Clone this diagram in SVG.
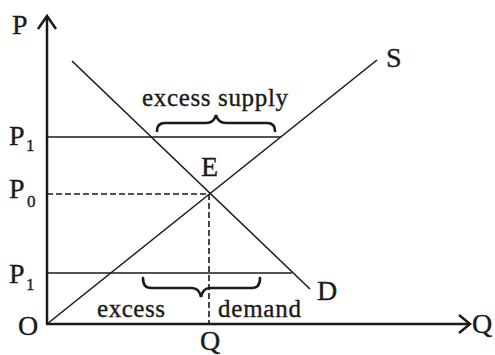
<svg xmlns="http://www.w3.org/2000/svg" width="495" height="355" viewBox="0 0 495 355">
<style>
text{font-family:"Liberation Serif","Times New Roman",serif;fill:#1a1a1a;stroke:#1a1a1a;stroke-width:0.35}
.lbl{font-size:28px}
.sub{font-size:17px}
.word{font-size:25px}
.axis{stroke:#1a1a1a;stroke-width:2.5;fill:none}
.ln{stroke:#1a1a1a;stroke-width:1.6;fill:none}
.dash{stroke:#1a1a1a;stroke-width:1.6;fill:none;stroke-dasharray:6 3}
.brace{stroke:#1a1a1a;stroke-width:2.6;fill:none;stroke-linecap:round}
</style>
<rect width="495" height="355" fill="#ffffff"/>
<g id="axes">
<line class="axis" x1="47" y1="324" x2="47" y2="16"/>
<polyline class="axis" points="38,29 47,16 56,29"/>
<line class="axis" x1="46" y1="324" x2="469" y2="324"/>
<polyline class="axis" points="459,315 470,324 459,333"/>
</g>
<g id="connectors">
<line id="supply" class="ln" x1="47" y1="324" x2="377" y2="60"/>
<line id="demand" class="ln" x1="72" y1="61" x2="310" y2="289"/>
<line id="p1-top" class="ln" x1="47" y1="137" x2="281" y2="137"/>
<line id="p1-low" class="ln" x1="47" y1="273" x2="292" y2="273"/>
<line id="p0" class="dash" x1="47" y1="194" x2="209" y2="194"/>
<line id="q" class="dash" x1="209" y1="194" x2="209" y2="324"/>
<path id="brace-top" class="brace" d="M157,131 Q157,123 165,123 L206,123 Q214,123 216,115 Q218,123 226,123 L267,123 Q275,123 275,131"/>
<path id="brace-low" class="brace" d="M143,278 Q143,288 151,288 L192,288 Q199,288 201,297 Q203,288 210,288 L252,288 Q260,288 260,278"/>
</g>
<g id="labels">
<text class="lbl" x="12" y="34">P</text>
<text class="lbl" x="9" y="145">P</text><text class="sub" x="26" y="151">1</text>
<text class="lbl" x="9" y="198">P</text><text class="sub" x="27" y="207">0</text>
<text class="lbl" x="9" y="283">P</text><text class="sub" x="26" y="290">1</text>
<text class="lbl" x="18" y="335">O</text>
<text class="lbl" x="210" y="350" text-anchor="middle">Q</text>
<text class="lbl" x="472" y="333">Q</text>
<text class="lbl" x="201" y="176">E</text>
<text class="lbl" x="386" y="67">S</text>
<text class="lbl" x="317" y="300">D</text>
<text class="word" x="142" y="106" textLength="146">excess supply</text>
<text class="word" x="97" y="317" textLength="68">excess</text>
<text class="word" x="218" y="317" textLength="83">demand</text>
</g>
</svg>
